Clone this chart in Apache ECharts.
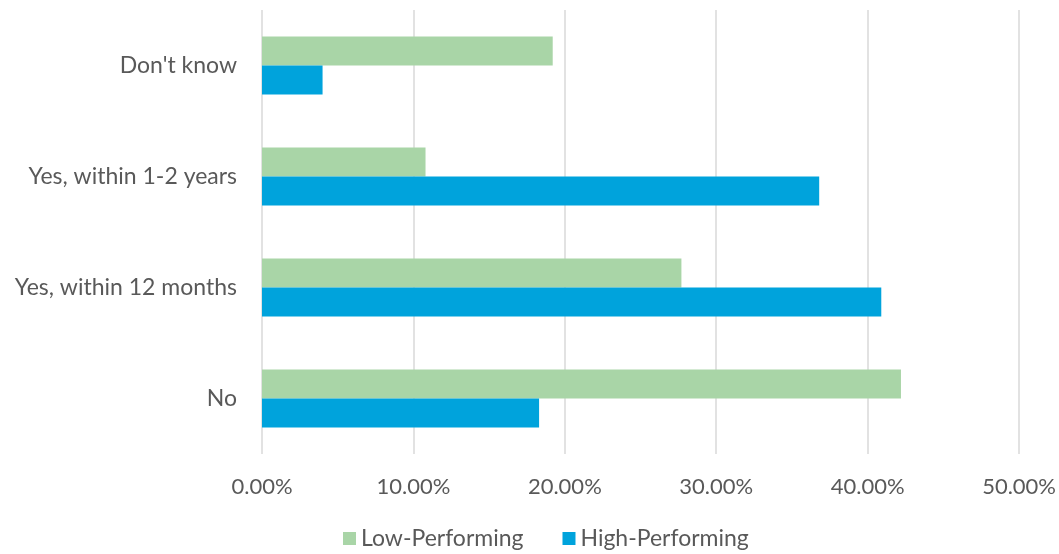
<!DOCTYPE html>
<html lang="en">
<head>
    <meta charset="UTF-8">
    <title>Low vs High Performing</title>
    <script src="https://cdn.jsdelivr.net/npm/echarts@6/dist/echarts.min.js"></script>
</head>
<body style="margin:0">
<div id="main" style="width: 1059px;height:554px;"></div>
<script type="text/javascript">
    // categories, top to bottom
    var categories = ["Don't know", "Yes, within 1-2 years", "Yes, within 12 months", "No"];
    var lowPerforming = [19.2, 10.8, 27.7, 42.2];
    var highPerforming = [4.0, 36.8, 40.9, 18.3];
    var xTicks = [0, 10, 20, 30, 40, 50];

    var textColor = '#595959';
    var font = 'Lato';

    var myChart = echarts.init(document.getElementById('main'));
    myChart.setOption({
        animation: false,
        legend: {
            data: ['Low-Performing', 'High-Performing'],
            top: 522,
            left: 338,
            itemWidth: 13,
            itemHeight: 13,
            itemGap: 39,
            icon: 'rect',
            textStyle: {color: textColor, fontSize: 23, fontFamily: font}
        },
        grid: {left: 262, right: 39, top: 10, bottom: 100},
        xAxis: {
            type: 'value',
            min: xTicks[0],
            max: xTicks[xTicks.length - 1],
            interval: 10,
            axisLine: {show: false},
            axisTick: {show: false},
            splitLine: {lineStyle: {color: '#d9d9d9', width: 1.5}},
            axisLabel: {
                color: textColor, fontSize: 22, fontFamily: font, margin: 22,
                formatter: function (v) { return v.toFixed(2) + '%'; }
            }
        },
        yAxis: {
            type: 'category',
            inverse: true,
            data: categories,
            axisLine: {show: false},
            axisTick: {show: false},
            axisLabel: {color: textColor, fontSize: 23, fontFamily: font, margin: 25}
        },
        series: [
            {
                name: 'Low-Performing',
                type: 'bar',
                data: lowPerforming,
                barWidth: 29,
                barGap: '0%',
                itemStyle: {color: '#a9d5a7'}
            },
            {
                name: 'High-Performing',
                type: 'bar',
                data: highPerforming,
                barWidth: 29,
                barGap: '0%',
                itemStyle: {color: '#00a3dc'}
            }
        ]
    });
</script>
</body>
</html>
